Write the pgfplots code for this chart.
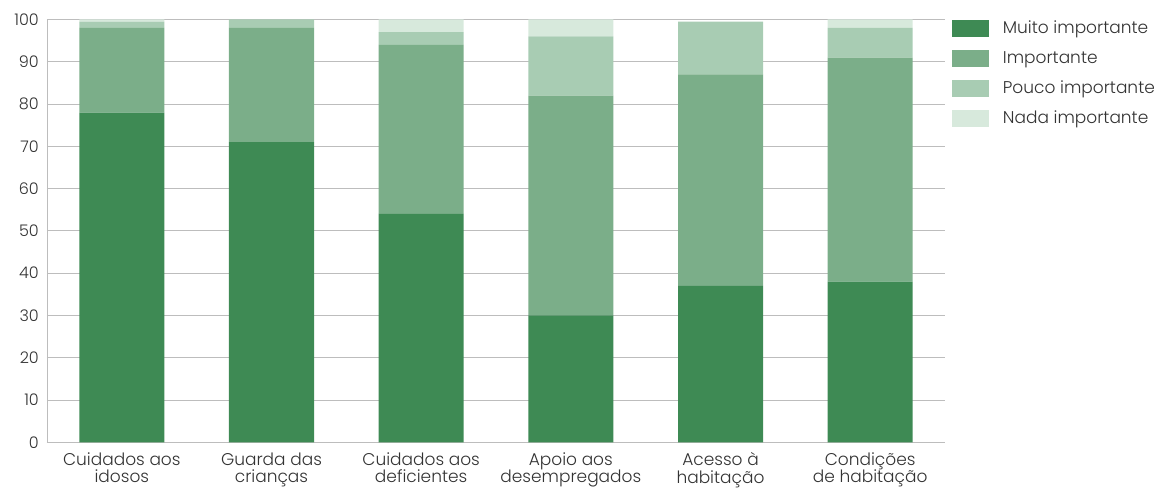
\documentclass[border=0pt]{standalone}
\usepackage{fontspec}
\setmainfont{Poppins}[UprightFont=* Light]
\usepackage{pgfplots}
\pgfplotsset{compat=1.18}

\definecolor{muito}{HTML}{3E8A54}
\definecolor{importante}{HTML}{7BAE89}
\definecolor{pouco}{HTML}{A8CCB3}
\definecolor{nada}{HTML}{D7E9DC}
\definecolor{gridgrey}{HTML}{BDBDBD}
\definecolor{txt}{HTML}{333333}

\begin{document}
\fontsize{17}{19}\selectfont
\begin{tikzpicture}[x=1pt,y=1pt]
\useasboundingbox (0,0) rectangle (1160,489);
\begin{axis}[
  at={(47pt,46.7pt)}, anchor=south west,
  scale only axis, width=898pt, height=422.8pt,
  xmin=-0.5, xmax=5.5, ymin=0, ymax=100,
  ybar stacked, bar width=85pt,
  axis lines*=left,
  axis line style={gridgrey, line width=0.8pt},
  ytick={0,10,...,100},
  ymajorgrids, grid style={gridgrey, line width=0.8pt},
  ytick style={draw=none},
  yticklabel style={inner sep=0pt, xshift=-8pt, font=\fontsize{16}{18}\selectfont, text=txt},
  /pgf/number format/assume math mode=true,
  xtick={0,...,5},
  xticklabels={Cuidados aos\\idosos, Guarda das\\crianças, Cuidados aos\\deficientes, Apoio aos\\desempregados, Acesso à\\habitação, Condições\\de habitação},
  xticklabel style={align=center, inner sep=0pt, yshift=-10pt, font=\fontsize{17}{17.5}\selectfont, text=txt},
  major x tick style={draw=none},
  extra x ticks={0.5,1.5,2.5,3.5,4.5,5.5},
  extra x tick labels={},
  extra x tick style={grid=none, major tick length=10pt, tick style={gridgrey, line width=0.8pt}},
  legend style={at={(axis description cs:1,1)}, anchor=north west, xshift=6.7pt, yshift=-0.5pt,
    draw=none, inner sep=0pt, row sep=13pt,
    nodes={inner sep=0pt, anchor=west, text=txt, font=\fontsize{17}{19}\selectfont},
    /tikz/every odd column/.append style={column sep=14pt}},
  legend cell align=left,
  legend image code/.code={\fill[#1] (0pt,-8.5pt) rectangle (37pt,8.5pt);},
]
\addplot[fill=muito, draw=none] coordinates {(0,78) (1,71) (2,54) (3,30) (4,37) (5,38)};
\addplot[fill=importante, draw=none] coordinates {(0,20) (1,27) (2,40) (3,52) (4,50) (5,53)};
\addplot[fill=pouco, draw=none] coordinates {(0,1.5) (1,2) (2,3) (3,14) (4,12.5) (5,7)};
\addplot[fill=nada, draw=none] coordinates {(0,0.5) (1,0) (2,3) (3,4) (4,0) (5,2)};
\legend{Muito importante, Importante, Pouco importante, Nada importante}
\end{axis}
\end{tikzpicture}
\end{document}
